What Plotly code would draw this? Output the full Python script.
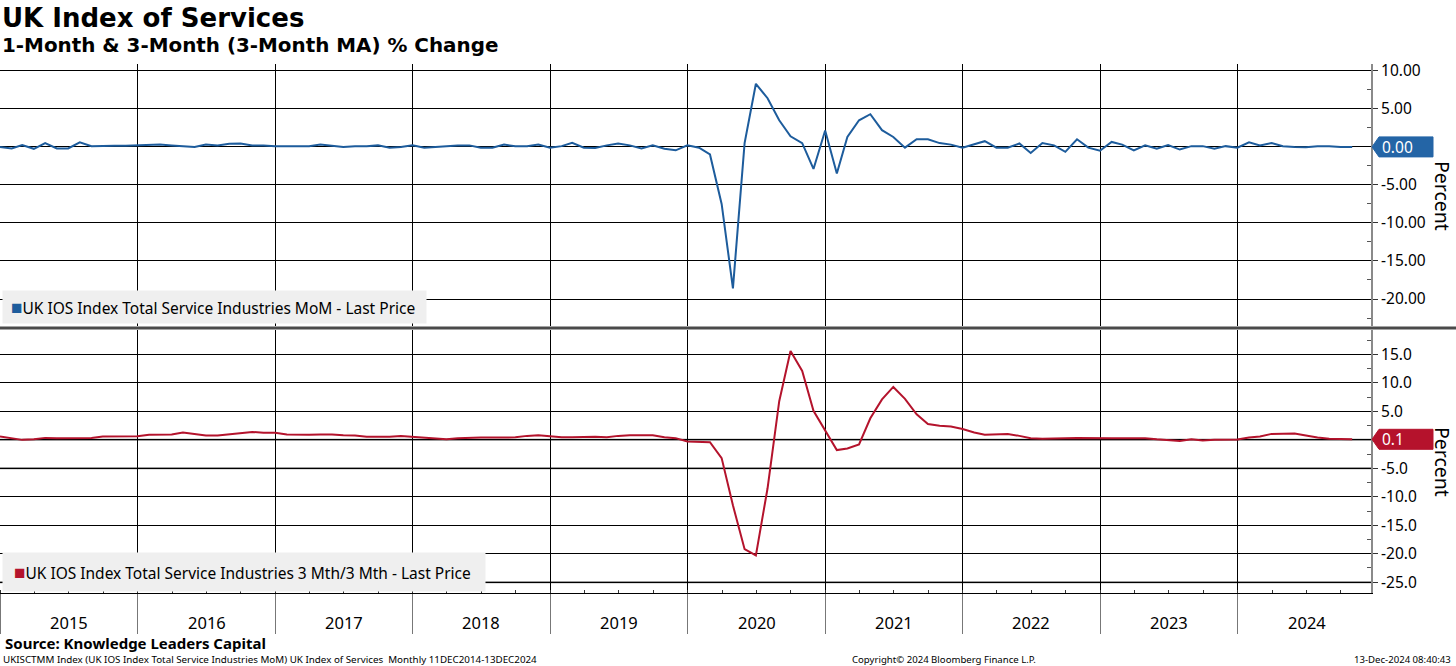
import pandas as pd
import plotly.graph_objects as go

# ---------------- data ----------------
dates = pd.date_range("2014-12-31", periods=119, freq="ME")

mom = [
    0.0,
    -0.2, 0.25, -0.25, 0.5, -0.2, -0.2, 0.6, 0.1, 0.15, 0.15, 0.15, 0.2,
    0.2, 0.3, 0.2, 0.1, 0.0, 0.3, 0.2, 0.4, 0.45, 0.2, 0.2, 0.1,
    0.1, 0.1, 0.1, 0.3, 0.1, 0.0, 0.1, 0.1, 0.2, -0.1, 0.0, 0.2,
    -0.1, 0.0, 0.1, 0.2, 0.2, -0.1, -0.1, 0.3, 0.1, 0.1, 0.3, -0.1,
    0.1, 0.55, -0.1, -0.15, 0.2, 0.45, 0.2, -0.2, 0.2, -0.25, -0.45, 0.2,
    -0.1, -1.0, -7.5, -18.6, 0.5, 8.3, 6.4, 3.5, 1.4, 0.5, -2.9, 2.15,
    -3.5, 1.3, 3.5, 4.3, 2.2, 1.3, -0.1, 1.0, 1.0, 0.5, 0.3, -0.1,
    0.35, 0.75, -0.1, -0.1, 0.45, -0.8, 0.5, 0.2, -0.65, 1.0, -0.1, -0.5,
    0.65, 0.3, -0.45, 0.2, -0.25, 0.25, -0.35, 0.1, 0.1, -0.25, 0.1, -0.1,
    0.6, 0.2, 0.5, 0.1, 0.0, -0.05, 0.1, 0.1, 0.0, 0.0,
]

three_m = [
    0.6,
    0.3, 0.0, 0.1, 0.35, 0.3, 0.3, 0.3, 0.35, 0.6, 0.65, 0.65, 0.65,
    0.9, 0.95, 0.95, 1.3, 1.0, 0.75, 0.75, 1.0, 1.2, 1.4, 1.25, 1.25,
    0.95, 0.9, 0.9, 0.95, 0.95, 0.8, 0.75, 0.55, 0.55, 0.55, 0.7, 0.55,
    0.35, 0.25, 0.1, 0.3, 0.4, 0.4, 0.4, 0.4, 0.45, 0.7, 0.8, 0.65,
    0.45, 0.45, 0.55, 0.55, 0.45, 0.7, 0.8, 0.8, 0.8, 0.45, 0.3, -0.3,
    -0.4, -0.4, -3.2, -11.5, -19.2, -20.3, -8.5, 6.8, 15.6, 12.1, 5.1, 1.6,
    -1.8, -1.5, -0.8, 3.8, 7.1, 9.3, 7.2, 4.5, 2.8, 2.5, 2.35, 1.9,
    1.3, 0.9, 1.0, 1.05, 0.7, 0.3, 0.2, 0.2, 0.3, 0.35, 0.3, 0.3,
    0.3, 0.3, 0.3, 0.3, 0.1, -0.1, -0.2, 0.1, -0.1, 0.0, 0.0, 0.05,
    0.4, 0.6, 1.05, 1.1, 1.1, 0.75, 0.4, 0.2, 0.15, 0.1,
]

years = [2015, 2016, 2017, 2018, 2019, 2020, 2021, 2022, 2023, 2024]
top_ticks = [10, 5, 0, -5, -10, -15, -20]
bot_ticks = [15, 10, 5, 0, -5, -10, -15, -20, -25]
bot_gray_lines = [0, -5, -25]

top_name = "UK IOS Index Total Service Industries MoM - Last Price"
bot_name = "UK IOS Index Total Service Industries 3 Mth/3 Mth - Last Price"

# ---------------- style ----------------
BLUE = "#1d5c9c"
BLUE_BOX = "#2465a6"
RED = "#b4132c"
RED_BOX = "#b5122c"
FONT = "Noto Sans"
W, H = 1456, 666
ML, MR, MT, MB = 0, 85, 64, 73
PH = H - MT - MB          # plot height in px
PW = W - ML - MR
def py(pix):              # pixel row -> paper y
    return (H - MB - pix) / PH
def px(pix):              # pixel col -> paper x
    return (pix - ML) / PW

top_dom = [py(326), 1.0]
bot_dom = [0.0, py(330)]
x_range = ["2014-12-31", "2024-12-20"]

fig = go.Figure()
fig.add_trace(go.Scatter(x=dates, y=mom, mode="lines", name=top_name,
                         line=dict(color=BLUE, width=2), xaxis="x", yaxis="y",
                         hoverinfo="skip", showlegend=False))
fig.add_trace(go.Scatter(x=dates, y=three_m, mode="lines", name=bot_name,
                         line=dict(color=RED, width=2), xaxis="x2", yaxis="y2",
                         hoverinfo="skip", showlegend=False))

common_x = dict(type="date", range=x_range, showgrid=True, gridcolor="#000000",
                gridwidth=1, dtick="M12", tick0="2015-01-01", showticklabels=False,
                zeroline=False)
common_y = dict(side="right", showgrid=True, gridcolor="#000000", gridwidth=1,
                zeroline=False, showline=True, linecolor="#8a8a8a", linewidth=2,
                ticks="outside", ticklen=5, tickcolor="#333333",
                tickfont=dict(family=FONT, size=15.5, color="#000000"))

fig.update_layout(
    width=W, height=H,
    margin=dict(l=ML, r=MR, t=MT, b=MB),
    paper_bgcolor="#ffffff", plot_bgcolor="#ffffff",
    showlegend=False,
    xaxis=dict(**common_x, anchor="y", matches="x2", ticks=""),
    xaxis2=dict(**common_x, anchor="y2", showline=True, linecolor="#000000",
                linewidth=1, ticks="outside", ticklen=40, tickcolor="#777777",
                tickwidth=1,
                minor=dict(ticks="inside", ticklen=3, dtick="M3",
                           tick0="2015-01-01", tickcolor="#333333", showgrid=False)),
    yaxis=dict(**common_y, domain=top_dom, anchor="x", range=[-23.55, 10.9],
               tickmode="array", tickvals=top_ticks,
               ticktext=[f"{v:.2f}" for v in top_ticks],
               minor=dict(ticks="inside", ticklen=4, dtick=5, tick0=2.5,
                          tickcolor="#555555", showgrid=False)),
    yaxis2=dict(**common_y, domain=bot_dom, anchor="x2", range=[-26.9, 19.3],
                tickmode="array", tickvals=bot_ticks,
                ticktext=[f"{v:.1f}" for v in bot_ticks],
                minor=dict(ticks="inside", ticklen=4, dtick=5, tick0=2.5,
                           tickcolor="#555555", showgrid=False)),
)

shapes = []
# separator between panels
shapes.append(dict(type="line", xref="paper", yref="paper", x0=0, x1=px(W),
                   y0=py(328), y1=py(328), line=dict(color="#4a4a4a", width=3)))
# gray-looking gridlines in lower panel
for v in bot_gray_lines:
    shapes.append(dict(type="line", xref="paper", yref="y2", x0=0, x1=1, y0=v, y1=v,
                       line=dict(color="#7c7c7c", width=2), layer="between"))

# last value tags
def tag(yref, val, color):
    return dict(type="path", xref="paper", yref=yref, xsizemode="pixel",
                ysizemode="pixel", xanchor=1, yanchor=val,
                path="M 1 0 L 8 10 L 62 10 L 62 -10 L 8 -10 Z",
                fillcolor=color, line=dict(color=color, width=1), layer="above")
shapes.append(tag("y", mom[-1], BLUE_BOX))
shapes.append(tag("y2", three_m[-1], RED_BOX))
fig.update_layout(shapes=shapes)

ann = []
ann.append(dict(xref="paper", yref="y", x=1, y=mom[-1], xshift=9, xanchor="left",
                yanchor="middle", text=f"{mom[-1]:.2f}", showarrow=False,
                font=dict(family=FONT, size=15.5, color="#ffffff")))
ann.append(dict(xref="paper", yref="y2", x=1, y=three_m[-1], xshift=9, xanchor="left",
                yanchor="middle", text=f"{three_m[-1]:.1f}", showarrow=False,
                font=dict(family=FONT, size=15.5, color="#ffffff")))

# Percent labels
for ycen in (py(196), py(462)):
    ann.append(dict(xref="paper", yref="paper", x=px(1443), y=ycen, text="Percent",
                    textangle=90, showarrow=False, xanchor="center", yanchor="middle",
                    font=dict(family=FONT, size=19.5, color="#000000")))

# year labels, centred in each year
for yr in years:
    ann.append(dict(xref="x2", yref="paper", x=f"{yr}-07-02", y=py(622), text=str(yr),
                    showarrow=False, xanchor="center", yanchor="middle",
                    font=dict(family=FONT, size=16.5, color="#000000")))

# legends
ann.append(dict(xref="paper", yref="paper", x=px(2), y=py(324), xanchor="left",
                yanchor="bottom", showarrow=False, align="left",
                text=f"<span style='color:{BLUE};font-size:19px'>&nbsp;■</span>{top_name}&nbsp;&nbsp;",
                bgcolor="#efefef", borderpad=3,
                font=dict(family=FONT, size=15.5, color="#000000")))
ann.append(dict(xref="paper", yref="paper", x=px(2), y=py(592), xanchor="left",
                yanchor="bottom", showarrow=False, align="left",
                text=f"<span style='color:{RED};font-size:19px'>&nbsp;■</span>{bot_name}&nbsp;&nbsp;",
                bgcolor="#efefef", borderpad=6,
                font=dict(family=FONT, size=15.5, color="#000000")))

# titles
ann.append(dict(xref="paper", yref="paper", x=0, y=py(18), xanchor="left",
                yanchor="middle", showarrow=False, text="<b>UK Index of Services</b>",
                font=dict(family="DejaVu Sans", size=26, color="#000000")))
ann.append(dict(xref="paper", yref="paper", x=0, y=py(46), xanchor="left",
                yanchor="middle", showarrow=False,
                text="<b>1-Month &amp; 3-Month (3-Month MA) % Change</b>",
                font=dict(family="DejaVu Sans", size=19.9, color="#000000")))

# footer
ann.append(dict(xref="paper", yref="paper", x=px(3), y=py(643), xanchor="left",
                yanchor="middle", showarrow=False,
                text="<b>Source: Knowledge Leaders Capital</b>",
                font=dict(family=FONT, size=15, color="#000000")))
ann.append(dict(xref="paper", yref="paper", x=px(1), y=py(659), xanchor="left",
                yanchor="middle", showarrow=False,
                text="UKISCTMM Index (UK IOS Index Total Service Industries MoM) UK Index of Services  Monthly 11DEC2014-13DEC2024",
                font=dict(family=FONT, size=9.8, color="#000000")))
ann.append(dict(xref="paper", yref="paper", x=px(850), y=py(659), xanchor="left",
                yanchor="middle", showarrow=False,
                text="Copyright© 2024 Bloomberg Finance L.P.",
                font=dict(family=FONT, size=9.6, color="#000000")))
ann.append(dict(xref="paper", yref="paper", x=px(1453), y=py(659), xanchor="right",
                yanchor="middle", showarrow=False, text="13-Dec-2024 08:40:43",
                font=dict(family=FONT, size=9.6, color="#000000")))

fig.update_layout(annotations=ann)
fig.write_html("out.html", config={"displayModeBar": False},
               post_script="document.body.style.margin='0px';document.body.style.overflow='hidden';")
